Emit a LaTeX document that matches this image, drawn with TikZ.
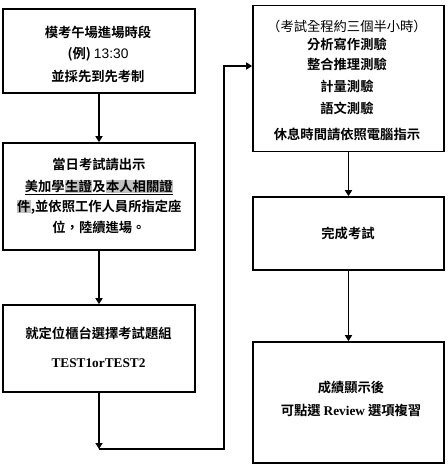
\documentclass[tikz,border=0pt]{standalone}
\usepackage{fontspec}
\usetikzlibrary{arrows.meta}
\setmainfont{Noto Sans CJK TC}[BoldFont={* Bold}]
\newfontfamily\arialf{Liberation Sans}
\newfontfamily\timesf{Liberation Serif}[BoldFont={Liberation Serif Bold}]
\definecolor{hlgray}{RGB}{192,192,192}
\newcommand{\hlbox}[1]{{\setlength{\fboxsep}{0.5pt}\colorbox{hlgray}{\vphantom{美}#1}}}
\newcommand{\ulline}[1]{\leavevmode\vtop{\hbox{#1}\kern1pt\hrule height 0.9pt}}
\tikzset{
  box/.style={draw, line width=1.6pt, inner sep=0pt},
  arr/.style={line width=1.6pt, -{Triangle[width=7pt,length=6pt]}},
  txt/.style={align=center, font=\fontsize{13.3}{22}\selectfont\bfseries, inner sep=0pt}
}
\begin{document}
\begin{tikzpicture}[x=1pt,y=-1pt]
\useasboundingbox (0,0) rectangle (448,475);
% boxes
\node[box, minimum width=192pt, minimum height=84pt] (b1) at (99,51) {};
\node[box, minimum width=192pt, minimum height=107pt] (b2) at (99,196.5) {};
\node[box, minimum width=192pt, minimum height=87pt] (b3) at (99,348.5) {};
\node[box, minimum width=191pt, minimum height=146pt] (b4) at (348.5,78.5) {};
\node[box, minimum width=191pt, minimum height=73pt] (b5) at (348.5,233.5) {};
\node[box, minimum width=191pt, minimum height=121pt] (b6) at (348.5,402.5) {};
% texts
\node[txt] (t1) at (98,54) {模考午場進場時段\\[-1pt](例) {\arialf\mdseries\fontsize{13.8}{22}\selectfont 13:30}\\[1pt]並採先到先考制};
\node[txt] (t2) at (99,196) {當日考試請出示\\[0pt]\ulline{美加學\hlbox{生證}及\hlbox{本人相關證}}\\[-2pt]\hlbox{件},並依照工作人員所指定座\\[-1pt]位，陸續進場。};
\node[txt] (t3) at (98.5,347.5) {就定位櫃台選擇考試題組\\[7pt]{\timesf\bfseries TEST1orTEST2}};
\node[txt, font=\fontsize{13.3}{18}\selectfont\bfseries] (t4) at (347,80) {{\mdseries （考試全程約三個半小時）}\\[0pt]分析寫作測驗\\[2pt]整合推理測驗\\[4pt]計量測驗\\[4pt]語文測驗\\[8pt]休息時間請依照電腦指示};
\node[txt] (t5) at (348,233) {完成考試};
\node[txt] (t6) at (351,398.5) {成績顯示後\\[1pt]可點選 {\timesf\bfseries Review} 選項複習};
% connectors
\draw[arr] (b1) -- (b2);
\draw[arr] (b2) -- (b3);
\draw[arr] (b4) -- (b5);
\draw[arr] (b5) -- (b6);
\coordinate (c1) at (99,449);
\coordinate (c2) at (224,449);
\coordinate (c3) at (224,66);
\draw[arr] (b3.south) -- (c1);
\draw[arr] (c1) -- (c2) -- (c3) -- (c3 -| b4.west);
\end{tikzpicture}
\end{document}
